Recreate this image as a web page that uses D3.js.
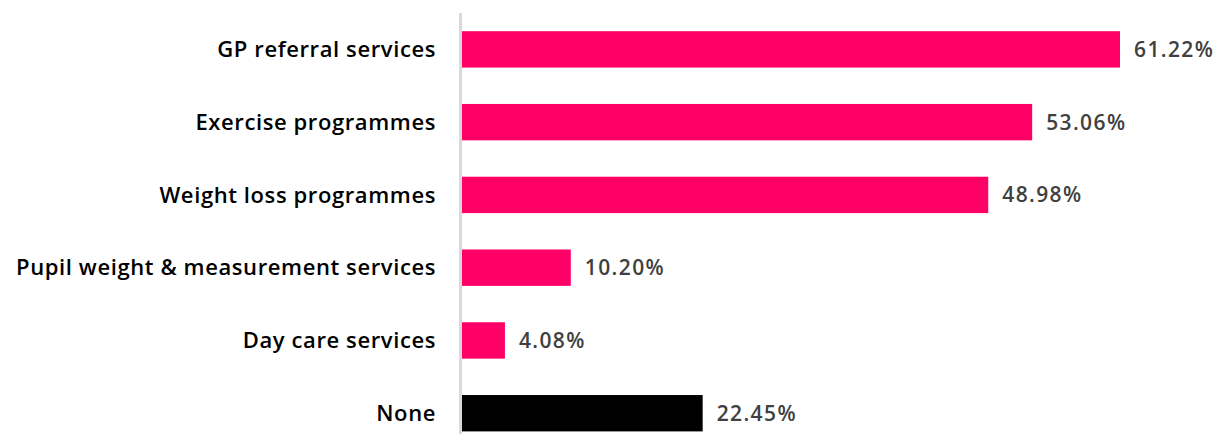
<!DOCTYPE html>
<html>
<head>
<meta charset="utf-8">
<script src="https://cdn.jsdelivr.net/npm/d3@7"></script>
<style>
  html, body { margin: 0; padding: 0; background: #fff; }
  svg { display: block; }
  .cat { font-family: "Open Sans", sans-serif; font-weight: 600; font-size: 22px; letter-spacing: 0.6px; fill: #000; }
  .val { font-family: "Open Sans", sans-serif; font-weight: 600; font-size: 21px; letter-spacing: 1.4px; fill: #404040; }
</style>
</head>
<body>
<svg id="chart" width="1231" height="434"></svg>
<script>
const categories = [
  "GP referral services",
  "Exercise programmes",
  "Weight loss programmes",
  "Pupil weight & measurement services",
  "Day care services",
  "None"
];
const values = [61.22, 53.06, 48.98, 10.20, 4.08, 22.45];
const barColors = ["#ff0066", "#ff0066", "#ff0066", "#ff0066", "#ff0066", "#000000"];

const width = 1231, height = 434;
const margin = { left: 461, top: 13 };

const svg = d3.select("#chart");

const x = d3.scaleLinear().domain([0, 61.22]).range([margin.left, 1120]);
const y = d3.scaleBand().domain(categories).range([margin.top, 449.6]).paddingInner(0.5).paddingOuter(0.25);

// bars
svg.selectAll("rect.bar")
  .data(categories)
  .join("rect")
  .attr("class", "bar")
  .attr("x", x(0))
  .attr("y", d => y(d))
  .attr("width", (d, i) => x(values[i]) - x(0))
  .attr("height", y.bandwidth())
  .attr("fill", (d, i) => barColors[i]);

// vertical category axis
svg.append("line")
  .attr("x1", margin.left - 0.5).attr("x2", margin.left - 0.5)
  .attr("y1", margin.top).attr("y2", height)
  .attr("stroke", "#d9d9d9").attr("stroke-width", 3);

// category labels
svg.selectAll("text.cat")
  .data(categories)
  .join("text")
  .attr("class", "cat")
  .attr("x", margin.left - 25)
  .attr("y", d => y(d) + y.bandwidth() / 2)
  .attr("dy", "0.35em")
  .attr("text-anchor", "end")
  .text(d => d);

// value labels
svg.selectAll("text.val")
  .data(categories)
  .join("text")
  .attr("class", "val")
  .attr("x", (d, i) => x(values[i]) + 14)
  .attr("y", d => y(d) + y.bandwidth() / 2)
  .attr("dy", "0.35em")
  .text((d, i) => values[i].toFixed(2) + "%");
</script>
</body>
</html>
